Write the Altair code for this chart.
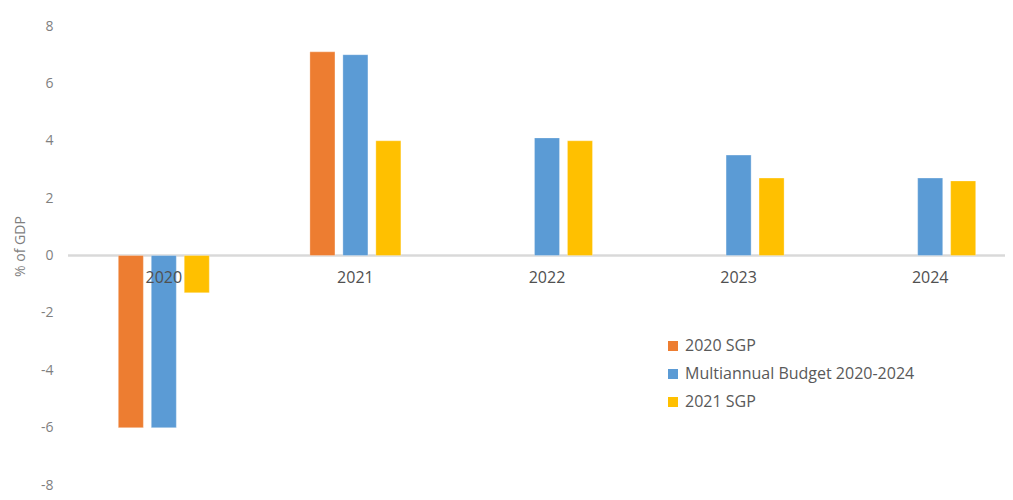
import altair as alt
import pandas as pd

years = ["2020", "2021", "2022", "2023", "2024"]
series = ["2020 SGP", "Multiannual Budget 2020-2024", "2021 SGP"]
sgp_2020 = [-6.0, 7.1, None, None, None]
multiannual = [-6.0, 7.0, 4.1, 3.5, 2.7]
sgp_2021 = [-1.3, 4.0, 4.0, 2.7, 2.6]
colors = ["#ED7D31", "#5B9BD5", "#FFC000"]

rows = []
for name, vals in zip(series, [sgp_2020, multiannual, sgp_2021]):
    for y, v in zip(years, vals):
        if v is not None:
            rows.append({"year": y, "series": name, "value": v})
df = pd.DataFrame(rows)
labels_df = pd.DataFrame({"year": years, "zero": [0] * len(years)})

FONT = "Open Sans"

xscale = alt.Scale(domain=years, range=[0, 958], paddingInner=0.353, paddingOuter=0.1765)
yscale = alt.Scale(domain=[-8, 8], nice=False)

bars = alt.Chart(df).mark_bar(stroke="white", strokeWidth=0.6, strokeOpacity=0.5).encode(
    x=alt.X("year:N", scale=xscale, axis=None),
    xOffset=alt.XOffset("series:N", scale=alt.Scale(domain=series, paddingInner=0.24, paddingOuter=0.5)),
    y=alt.Y("value:Q", scale=yscale,
            axis=alt.Axis(values=[-8, -6, -4, -2, 0, 2, 4, 6, 8], ticks=False, domain=False, grid=False,
                          labelExpr="'' + datum.value",
                          labelFont=FONT, labelFontSize=14, labelColor="#7f7f7f", labelPadding=15,
                          title="% of GDP", titleFont=FONT, titleFontSize=14, titleFontWeight="normal",
                          titleColor="#7f7f7f", titlePadding=13, titleY=220)),
    color=alt.Color("series:N", scale=alt.Scale(domain=series, range=colors),
                    legend=alt.Legend(title=None, orient="none", legendX=597, legendY=312,
                                      symbolType="square", symbolSize=100, symbolStrokeWidth=0,
                                      labelFont=FONT, labelFontSize=16, labelColor="#595959",
                                      labelLimit=0, rowPadding=12, labelOffset=4, padding=0)),
)

zero = alt.Chart(labels_df).mark_rule(color="#d9d9d9", strokeWidth=1.5).encode(
    y=alt.Y("zero:Q", scale=yscale), x=alt.value(0), x2=alt.value(960)
)

text = alt.Chart(labels_df).mark_text(font=FONT, fontSize=16, color="#505050", dy=22).encode(
    x=alt.X("year:N", scale=xscale, axis=None),
    y=alt.Y("zero:Q", scale=yscale),
    text="year:N",
)

chart = alt.layer(zero, bars, text).properties(
    width=937, height=459,
    autosize=alt.AutoSizeParams(type="none"),
    padding={"left": 60, "top": 18, "right": 0, "bottom": 7},
).configure_view(stroke=None)

chart.save("out.html", embed_options={"renderer": "svg", "actions": False})
